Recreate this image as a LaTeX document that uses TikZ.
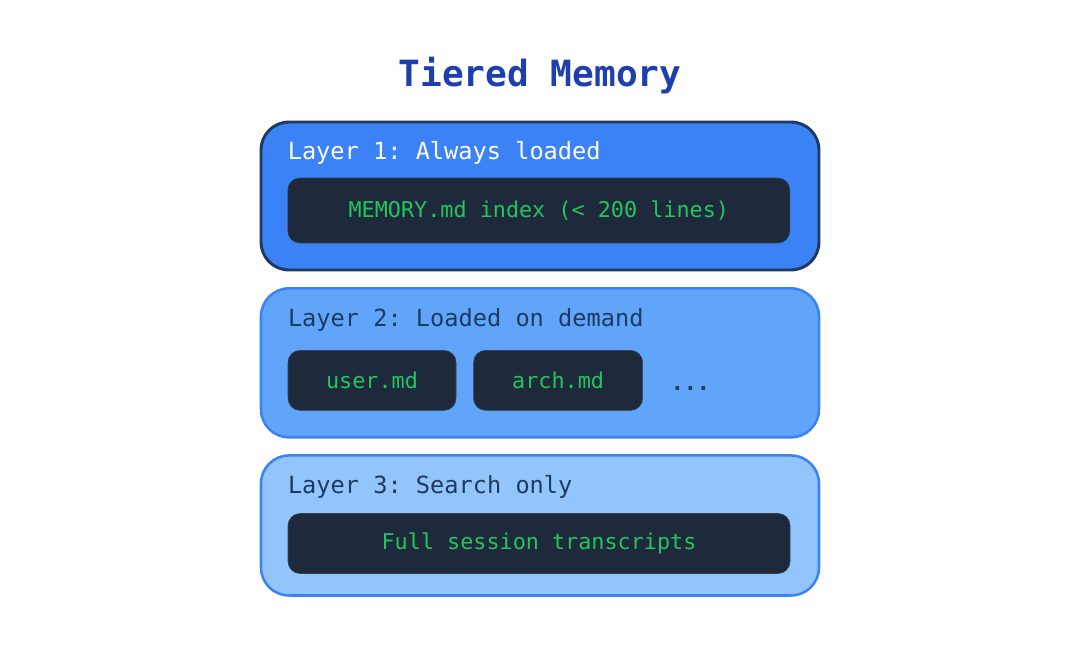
\documentclass[tikz,border=0pt]{standalone}
\usepackage{fontspec}
\setmonofont{DejaVu Sans Mono}
\usepackage{xcolor}
\usetikzlibrary{positioning,calc}
\definecolor{titleblue}{HTML}{1E40AF}
\definecolor{navy}{HTML}{1E3A5F}
\definecolor{blueA}{HTML}{3B82F6}
\definecolor{blueB}{HTML}{60A5FA}
\definecolor{blueC}{HTML}{93C5FD}
\definecolor{filebg}{HTML}{1E293B}
\definecolor{filerim}{HTML}{334155}
\definecolor{filegreen}{HTML}{22C55E}

\begin{document}
\begin{tikzpicture}[node distance=0.39cm and 0.425cm,
    layer/.style={draw,rounded corners=0.7cm,minimum width=13.95cm,line width=1.8pt},
    lbl/.style={anchor=base west,inner sep=0,font=\ttfamily\fontsize{16.8}{20}\selectfont},
    file/.style={draw=filerim,fill=filebg,rounded corners=0.3cm,minimum height=1.5cm,text=filegreen,font=\ttfamily\fontsize{15.5}{18}\selectfont}]
  \useasboundingbox (0,0) rectangle (27,-16.1);
  \node[font=\ttfamily\bfseries\fontsize{25.7}{30}\selectfont,text=titleblue] (title) at (13.5,-1.9) {Tiered Memory};
  \node[layer,draw=navy,fill=blueA,line width=2.1pt,minimum height=3.7cm] (l1) at (13.5,-4.9) {};
  \node[layer,draw=blueA,fill=blueB,minimum height=3.725cm,below=of l1] (l2) {};
  \node[layer,draw=blueA,fill=blueC,minimum height=3.5cm,below=of l2] (l3) {};
  \node[lbl,text=white] (l1lbl) at ($(l1.north west)+(0.7,-0.98)$) {Layer 1: Always loaded};
  \node[lbl,text=navy] (l2lbl) at ($(l2.north west)+(0.7,-0.98)$) {Layer 2: Loaded on demand};
  \node[lbl,text=navy] (l3lbl) at ($(l3.north west)+(0.7,-0.98)$) {Layer 3: Search only};
  \node[file,minimum width=12.55cm,minimum height=1.625cm,below right=1.43cm and 0.7cm of l1.north west] (mem) {MEMORY.md index (< 200 lines)};
  \node[file,minimum width=4.2cm,below right=1.575cm and 0.7cm of l2.north west] (user) {user.md};
  \node[file,minimum width=4.225cm,right=of user] (arch) {arch.md};
  \node[inner sep=0,text=navy,font=\ttfamily\bfseries\fontsize{15.5}{18}\selectfont,right=0.69cm of arch,yshift=-0.2cm] (more) {...};
  \node[file,minimum width=12.55cm,below right=1.475cm and 0.7cm of l3.north west] (trans) {Full session transcripts};
\end{tikzpicture}
\end{document}
